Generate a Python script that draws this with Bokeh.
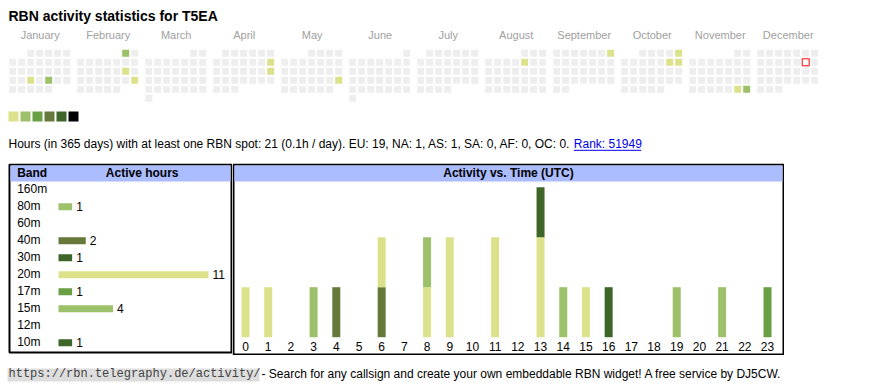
import calendar
import datetime
from bokeh.plotting import figure
from bokeh.models import Range1d, ColumnDataSource
from bokeh.layouts import column, row
from bokeh.core.properties import value
from bokeh.embed import file_html
from bokeh.resources import INLINE

# ---------------- data ----------------
callsign = "T5EA"
year = 2025
months = ["January", "February", "March", "April", "May", "June", "July",
          "August", "September", "October", "November", "December"]
active_dates = ["2025-01-22", "2025-01-24", "2025-02-01", "2025-02-15", "2025-02-23",
                "2025-04-13", "2025-04-20", "2025-05-25", "2025-08-08", "2025-09-07",
                "2025-10-05", "2025-10-11", "2025-10-12", "2025-11-29", "2025-11-30"]
active_levels = [1, 2, 2, 1, 1, 1, 1, 1, 1, 1, 1, 1, 1, 1, 2]
today = "2025-12-13"
level_colors = ["#dbe28b", "#9dc06a", "#6a9f45", "#66783a", "#3d6628", "#000000"]

total_hours = 21
hours_per_day = 0.1
continents = ["EU", "NA", "AS", "SA", "AF", "OC"]
continent_hours = [19, 1, 1, 0, 0, 0]
rank = 51949

bands = ["160m", "80m", "60m", "40m", "30m", "20m", "17m", "15m", "12m", "10m"]
band_hours = [0, 1, 0, 2, 1, 11, 1, 4, 0, 1]
band_colors = ["#dbe28b", "#9dc06a", "#dbe28b", "#66783a", "#3d6628",
               "#dbe28b", "#6a9f45", "#9dc06a", "#dbe28b", "#3d6628"]

hours = list(range(24))
h_160m = [0] * 24
h_80m = [0, 0, 0, 1, 0, 0, 0, 0, 0, 0, 0, 0, 0, 0, 0, 0, 0, 0, 0, 0, 0, 0, 0, 0]
h_60m = [0] * 24
h_40m = [0, 0, 0, 0, 1, 0, 1, 0, 0, 0, 0, 0, 0, 0, 0, 0, 0, 0, 0, 0, 0, 0, 0, 0]
h_30m = [0, 0, 0, 0, 0, 0, 0, 0, 0, 0, 0, 0, 0, 0, 0, 0, 1, 0, 0, 0, 0, 0, 0, 0]
h_20m = [1, 1, 0, 0, 0, 0, 1, 0, 1, 2, 0, 2, 0, 2, 0, 1, 0, 0, 0, 0, 0, 0, 0, 0]
h_17m = [0, 0, 0, 0, 0, 0, 0, 0, 0, 0, 0, 0, 0, 0, 0, 0, 0, 0, 0, 0, 0, 0, 0, 1]
h_15m = [0, 0, 0, 0, 0, 0, 0, 0, 1, 0, 0, 0, 0, 0, 1, 0, 0, 0, 0, 1, 0, 1, 0, 0]
h_12m = [0] * 24
h_10m = [0, 0, 0, 0, 0, 0, 0, 0, 0, 0, 0, 0, 0, 1, 0, 0, 0, 0, 0, 0, 0, 0, 0, 0]

url = "https://rbn.telegraphy.de/activity/"
footer = " - Search for any callsign and create your own embeddable RBN widget! A free service by DJ5CW."

# ---------------- helpers ----------------
FONT = "Liberation Sans"
M = 8          # page margin drawn inside the figures
SHIFT = 0.36   # baseline correction (em)


def mkfig(w, h, left=0, top=0):
    p = figure(width=w + left, height=h + top, x_range=Range1d(-left, w),
               y_range=Range1d(h, -top), output_backend="svg", toolbar_location=None,
               min_border=0, x_axis_type=None, y_axis_type=None)
    p.outline_line_color = None
    p.background_fill_color = "white"
    p.border_fill_color = "white"
    return p


def txt(p, x, y, s, size=12, bold=False, color="black", align="left", font=FONT):
    p.text(x=[x], y=[y - SHIFT * size], text=[s], text_font=value(font),
           text_font_size="%gpx" % size, text_font_style="bold" if bold else "normal",
           text_color=color, text_align=align, text_baseline="alphabetic")


# ---------------- top: title, calendar, legend, stats ----------------
top = mkfig(854, 155, left=M, top=M)
txt(top, 0, 13, "RBN activity statistics for " + callsign, size=14, bold=True)

MONTH_W, CELL_P, CELL = 68, 9, 7
X0, Y0 = 0.7, 41.3
lvl_map = dict(zip(active_dates, active_levels))
cx, cy, cc, lc, lw = [], [], [], [], []
for mi in range(12):
    txt(top, mi * MONTH_W + X0 + 31, 30.3, months[mi], size=11, color="#a0a0a0",
        align="center")
    first = datetime.date(year, mi + 1, 1)
    off = first.weekday()
    nd = calendar.monthrange(year, mi + 1)[1]
    for d in range(1, nd + 1):
        idx = off + d - 1
        wd, rw = idx % 7, idx // 7
        key = datetime.date(year, mi + 1, d).isoformat()
        cx.append(mi * MONTH_W + X0 + wd * CELL_P + CELL / 2)
        cy.append(Y0 + rw * CELL_P + CELL / 2)
        if key == today:
            cc.append("white"); lc.append("red"); lw.append(1)
        elif key in lvl_map:
            cc.append(level_colors[lvl_map[key] - 1]); lc.append(None); lw.append(0)
        else:
            cc.append("#eeeeee"); lc.append(None); lw.append(0)
top.rect(x=cx, y=cy, width=CELL, height=CELL, fill_color=cc, line_color=lc,
         line_width=lw)

# legend squares
lx = [5 + 12 * i for i in range(len(level_colors))]
top.rect(x=lx, y=[108] * len(lx), width=10, height=10, fill_color=level_colors,
         line_color=None)

stats = "Hours (in 365 days) with at least one RBN spot: %d (%.1fh / day). " % (
    total_hours, hours_per_day)
stats += ", ".join("%s: %d" % (c, v) for c, v in zip(continents, continent_hours)) + ". "
txt(top, 0, 140.3, stats, size=12)
link = "Rank: %d" % rank
txt(top, 565.3, 140.3, link, size=12, color="#0000ee")
top.line(x=[565.3, 632.7], y=[141.8, 141.8], line_color="#0000ee", line_width=1)

# ---------------- band table ----------------
HDR = "#abbcff"
bt = mkfig(224, 192, left=M)
bt.rect(x=[112], y=[95], width=222, height=188, fill_color="white",
        line_color="black", line_width=2)
bt.rect(x=[112], y=[10], width=220, height=16, fill_color=HDR, line_color=None)
txt(bt, 8.7, 13.7, "Band", bold=True)
txt(bt, 133.7, 13.7, "Active hours", bold=True, align="center")

BAR0, BARLEN = 50, 150
bt.extra_x_ranges = {"hrs": Range1d((-M - BAR0) * 11 / BARLEN, (224 - BAR0) * 11 / BARLEN)}
bt.extra_y_ranges = {"band": Range1d((192 - 26.3) / 17, -26.3 / 17)}
bidx = list(range(len(bands)))
bsrc = ColumnDataSource(dict(i=bidx, band=bands, hrs=band_hours, color=band_colors,
                             lab=[str(v) if v > 0 else "" for v in band_hours]))
bt.hbar(y="i", left=0, right="hrs", height=7 / 17, fill_color="color", line_color=None,
        source=bsrc, x_range_name="hrs", y_range_name="band")
yo = 4 - SHIFT * 12
bt.text(x=0, y="i", text="band", source=bsrc, x_offset=8.7 - BAR0, y_offset=yo,
        text_font=value(FONT), text_font_size="12px", text_baseline="alphabetic",
        x_range_name="hrs", y_range_name="band")
bt.text(x="hrs", y="i", text="lab", source=bsrc, x_offset=4, y_offset=yo,
        text_font=value(FONT), text_font_size="12px", text_baseline="alphabetic",
        x_range_name="hrs", y_range_name="band")

# ---------------- hour chart ----------------
ht = mkfig(552, 192)
ht.rect(x=[276], y=[96], width=550, height=190, fill_color="white",
        line_color="black", line_width=2)
ht.rect(x=[276], y=[10], width=548, height=16, fill_color=HDR, line_color=None)
txt(ht, 276, 13.7, "Activity vs. Time (UTC)", bold=True, align="center")

PITCH = 22.696
ht.extra_x_ranges = {"hour": Range1d(-13 / PITCH, (552 - 13) / PITCH)}
ht.extra_y_ranges = {"cnt": Range1d(-(192 - 173.7) / 50, 173.7 / 50)}
hsrc = ColumnDataSource(dict(hour=hours, lab=[str(h) for h in hours],
                             **{"160m": h_160m, "80m": h_80m, "60m": h_60m,
                                "40m": h_40m, "30m": h_30m, "20m": h_20m,
                                "17m": h_17m, "15m": h_15m, "12m": h_12m,
                                "10m": h_10m}))
ht.vbar_stack(stackers=bands, x="hour", width=8 / PITCH, color=band_colors,
              line_color=None, source=hsrc, x_range_name="hour", y_range_name="cnt")
ht.text(x="hour", y=0, text="lab", source=hsrc, y_offset=13.3 - SHIFT * 12,
        text_font=value(FONT), text_font_size="12px", text_align="center",
        text_baseline="alphabetic", x_range_name="hour", y_range_name="cnt")

# ---------------- footer ----------------
ft = mkfig(854, 27, left=M)
ft.rect(x=[(-1 + 251) / 2], y=[19.5], width=252, height=13, fill_color="#dddddd",
        line_color=None)
txt(ft, 0, 22.5, url, size=12, color="#444444", font="Liberation Mono")
txt(ft, 253, 22.5, footer, size=12)

layout = column(top, row(bt, ht), ft)
open("out.html", "w").write(file_html(layout, INLINE))
